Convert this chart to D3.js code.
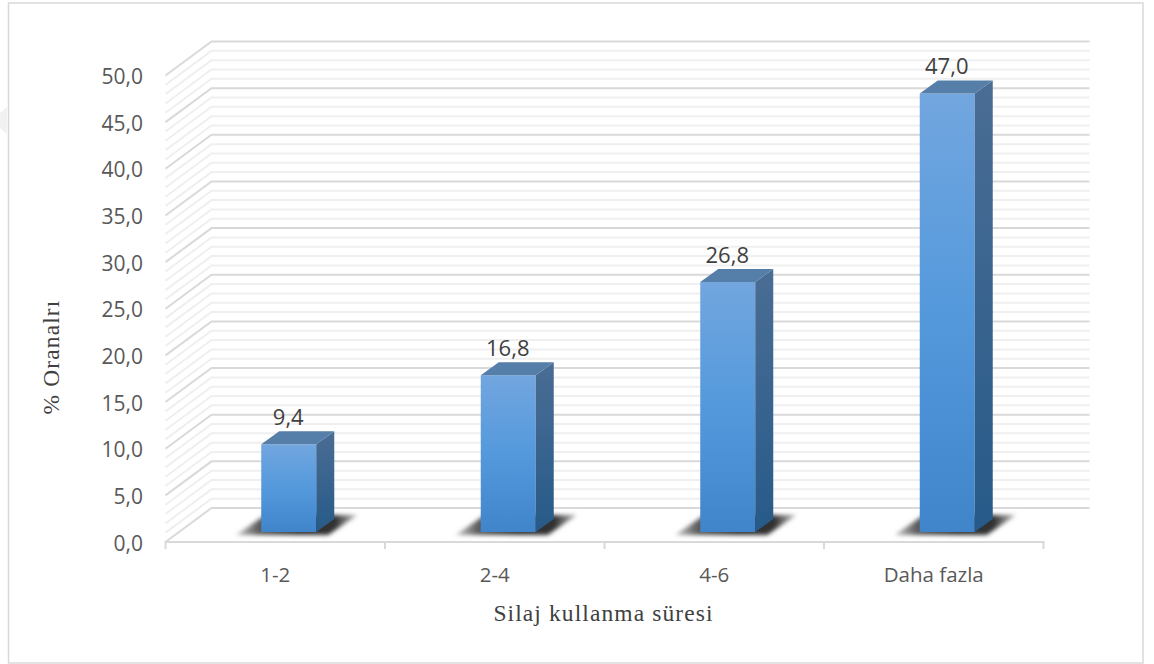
<!DOCTYPE html>
<html><head><meta charset="utf-8">
<script src="https://cdn.jsdelivr.net/npm/d3@7/dist/d3.min.js"></script>
<style>html,body{margin:0;padding:0;background:#fff}svg{display:block}</style>
</head><body><svg id="c" width="1154" height="664"></svg>
<script>
const categories = ["1-2","2-4","4-6","Daha fazla"];
const values = [9.4,16.8,26.8,47.0];
const valueLabels = ["9,4","16,8","26,8","47,0"];
const yTicks = [0,5,10,15,20,25,30,35,40,45,50];
const minorTicks = d3.range(0,51,1);
const xTitle = "Silaj kullanma süresi";
const yTitle = "% Oranalrı";

const svg = d3.select("#c");
const x = d3.scaleBand().domain(categories).range([165.5,1043.5]);
const y = d3.scaleLinear().domain([0,50]).range([542,75.5]);
const wall = {dx:46, dy:-34};      // back wall offset
const bar = {dx:13.5, dy:-10, w:55, sx:18, sy:-13}; // bar placement in depth

const defs = svg.append("defs");
const fg = defs.append("linearGradient").attr("id","front").attr("x1",0).attr("y1",0).attr("x2",0).attr("y2",1);
[[0,"#72a6df"],[0.5,"#5499dc"],[1,"#4085ca"]].forEach(s=>fg.append("stop").attr("offset",s[0]).attr("stop-color",s[1]));
const sd = defs.append("linearGradient").attr("id","side").attr("x1",0).attr("y1",0).attr("x2",0).attr("y2",1);
[[0,"#4a6d94"],[1,"#275a89"]].forEach(s=>sd.append("stop").attr("offset",s[0]).attr("stop-color",s[1]));
const sg = defs.append("linearGradient").attr("id","shadow").attr("x1",0).attr("y1",0).attr("x2",1).attr("y2",0);
[[0,"#8a8a8a",0.55],[0.18,"#555",0.95],[0.5,"#333",1],[0.82,"#333",1],[1,"#777",0.55]].forEach(s=>
  sg.append("stop").attr("offset",s[0]).attr("stop-color",s[1]).attr("stop-opacity",s[2]));
defs.append("filter").attr("id","blur").attr("filterUnits","userSpaceOnUse")
  .attr("x",0).attr("y",480).attr("width",1154).attr("height",90)
  .append("feGaussianBlur").attr("stdDeviation",2);

// faint watermark fragment at the left edge
svg.append("path").attr("d","M0 113 L7 107 L7 134 L0 128 Z").attr("fill","#f1f1f1");
// panel
svg.append("rect").attr("x",8.5).attr("y",3).attr("width",1134.5).attr("height",660).attr("fill","#fff").attr("stroke","#d9d9d9").attr("stroke-width",1.5);

// grid
const [x0,x1]=x.range();
const g = svg.append("g").attr("fill","none");
minorTicks.forEach(v=>{
  const major = v%5===0;
  const pts=[[x0,y(v)],[x0+wall.dx,y(v)+wall.dy],[x1+wall.dx,y(v)+wall.dy]];
  g.append("polyline").attr("points",pts.join(" "))
    .attr("stroke",major?"#d9d9d9":"#efefef").attr("stroke-width",2);
});
// x axis line + ticks
const ax = svg.append("g").attr("stroke","#d9d9d9").attr("stroke-width",2).attr("fill","none");
ax.append("line").attr("x1",x0-1).attr("x2",x1+1).attr("y1",y(0)).attr("y2",y(0));
[...categories.map(c=>x(c)),x1].forEach(t=>ax.append("line").attr("x1",t).attr("x2",t).attr("y1",y(0)).attr("y2",y(0)+7));

// y tick labels
svg.append("g").selectAll("text").data(yTicks).join("text")
  .attr("x",143).attr("y",d=>y(d)+8.5).attr("text-anchor","end")
  .attr("font-family","Open Sans").attr("font-size",21).attr("fill","#595959")
  .text(d=>d3.format(".1f")(d).replace(".",","));
// x tick labels
svg.append("g").selectAll("text").data(categories).join("text")
  .attr("x",c=>x(c)+x.bandwidth()/2).attr("y",581.5).attr("text-anchor","middle")
  .attr("font-family","Open Sans").attr("font-size",20.5).attr("fill","#595959").text(c=>c);

// bars
const rows = categories.map((c,i)=>({c,v:values[i],l:valueLabels[i]}));
const B = svg.append("g").selectAll("g").data(rows).join("g");
const left = d=>x(d.c)+x.bandwidth()/2-bar.w/2+bar.dx;
const base = bar.dy+y(0);
B.append("path").attr("filter","url(#blur)").attr("fill","url(#shadow)")
  .attr("d",d=>{const l=left(d),r=l+bar.w;return `M${l-25} ${base+3} L${r+12} ${base+3} L${r+41} ${base-17} L${l+4} ${base-17} Z`;});
B.append("rect").attr("x",left).attr("y",d=>base+y(d.v)-y(0)).attr("width",bar.w).attr("height",d=>y(0)-y(d.v)).attr("fill","url(#front)");
B.append("path").attr("fill","url(#side)").attr("d",d=>{const r=left(d)+bar.w,t=base+y(d.v)-y(0);
  return `M${r} ${t} L${r+bar.sx} ${t+bar.sy} L${r+bar.sx} ${base+bar.sy} L${r} ${base} Z`;});
B.append("path").attr("fill","#557ea9").attr("d",d=>{const l=left(d),t=base+y(d.v)-y(0);
  return `M${l} ${t} L${l+bar.sx} ${t+bar.sy} L${l+bar.w+bar.sx} ${t+bar.sy} L${l+bar.w} ${t} Z`;});
B.append("text").attr("x",d=>left(d)+bar.w/2-0.5).attr("y",d=>base+y(d.v)-y(0)-19)
  .attr("text-anchor","middle").attr("font-family","Open Sans").attr("font-size",22).attr("fill","#404040").text(d=>d.l);

// titles
svg.append("text").attr("x",603.5).attr("y",621).attr("text-anchor","middle")
  .attr("font-family","Liberation Serif").attr("font-size",23.5).attr("letter-spacing",1.1).attr("fill","#404040").text(xTitle);
svg.append("text").attr("transform","translate(59,357) rotate(-90)").attr("text-anchor","middle")
  .attr("font-family","Liberation Serif").attr("font-size",23.5).attr("letter-spacing",1.1).attr("fill","#404040").text(yTitle);
</script></body></html>
